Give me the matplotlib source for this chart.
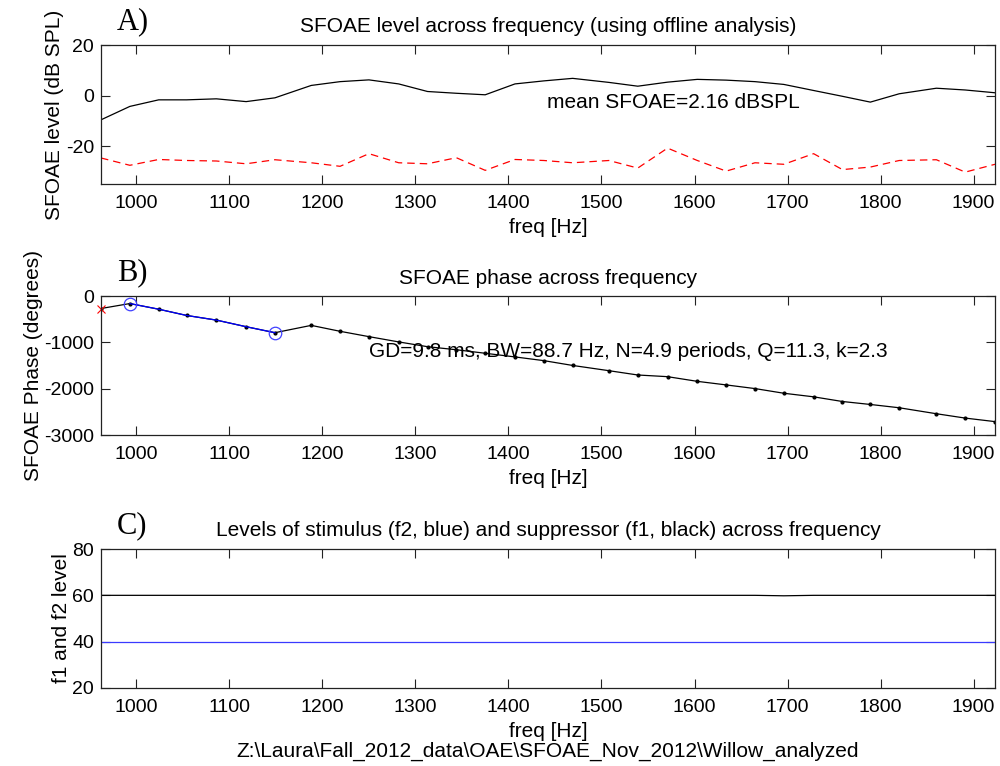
import matplotlib
matplotlib.use("Agg")
import matplotlib.pyplot as plt

# ---------------- data ----------------
freq = [962, 993, 1024, 1054, 1086, 1118, 1149, 1188, 1219, 1250, 1282, 1313,
        1344, 1375, 1407, 1438, 1469, 1508, 1539, 1571, 1603, 1634, 1665, 1696,
        1728, 1759, 1789, 1820, 1860, 1891, 1923]

sfoae_level = [-9.6, -4.3, -1.7, -1.7, -1.3, -2.4, -0.9, 4.0, 5.5, 6.2, 4.6, 1.6,
               0.9, 0.3, 4.6, 5.8, 6.8, 5.2, 3.7, 5.3, 6.4, 6.1, 5.5, 4.4,
               2.0, -0.3, -2.6, 0.7, 2.9, 2.2, 1.1]

noise_level = [-24.7, -27.6, -25.3, -25.7, -25.9, -27.0, -25.4, -26.6, -28.0, -23.0,
               -26.6, -27.0, -24.6, -29.6, -25.3, -25.7, -26.6, -25.7, -28.7, -20.8,
               -25.7, -29.9, -26.6, -27.2, -23.0, -29.3, -28.3, -25.7, -25.4, -30.3,
               -27.2]

phase = [-270, -163, -285, -420, -520, -663, -792, -634, -762, -877, -991, -1094,
         -1160, -1236, -1315, -1395, -1499, -1612, -1705, -1741, -1842, -1919,
         -1998, -2099, -2176, -2277, -2341, -2412, -2541, -2635, -2711]

fit_start, fit_end = 1, 6      # indices of circled points (fit range)
excluded_idx = 0               # red x

f1_level = [60, 60, 60, 60, 60, 60, 60, 60, 60, 60, 60, 60, 60, 60, 60, 60,
            60, 60, 60, 60, 60, 60, 60, 59.8, 60, 60, 60, 60, 60, 60, 60]
f2_level = [40] * 31

mean_text = "mean SFOAE=2.16 dBSPL"
phase_text = "GD=9.8 ms, BW=88.7 Hz, N=4.9 periods, Q=11.3, k=2.3"
path_text = r"Z:\Laura\Fall_2012_data\OAE\SFOAE_Nov_2012\Willow_analyzed"

xticks = [1000, 1100, 1200, 1300, 1400, 1500, 1600, 1700, 1800, 1900]

# ---------------- style ----------------
plt.rcParams['font.family'] = ['Liberation Sans', 'DejaVu Sans']
plt.rcParams['axes.unicode_minus'] = False
TK = 14   # tick labels
FS = 15   # other texts

fig = plt.figure(figsize=(10, 7.66), dpi=100)

H = 139 / 766
axA = fig.add_axes([0.101, 1 - 184 / 766, 0.894, H])
axB = fig.add_axes([0.101, 1 - 435 / 766, 0.894, H])
axC = fig.add_axes([0.101, 1 - 688 / 766, 0.894, H])


def style(ax):
    ax.set_xlim(freq[0], freq[-1])
    ax.set_xticks(xticks)
    ax.tick_params(direction='in', top=True, right=True, length=6.5,
                   width=0.8, labelsize=TK, color='#222222')
    ax.tick_params(axis='x', pad=8)
    ax.tick_params(axis='y', pad=5)
    for s in ax.spines.values():
        s.set_linewidth(0.9)
        s.set_color('#222222')


# Panel A
axA.plot(freq, sfoae_level, color='black', lw=0.9)
axA.plot(freq, noise_level, color='red', lw=0.9, ls=(0, (6, 4)))
style(axA)
axA.set_ylim(-35, 20)
axA.set_yticks([-20, 0, 20])
axA.set_ylabel("SFOAE level (dB SPL)", fontsize=FS, labelpad=1)
axA.set_xlabel("freq [Hz]", fontsize=FS, labelpad=4)
axA.set_title("SFOAE level across frequency (using offline analysis)",
              fontsize=FS, pad=9)
axA.text(1441, -2.8, mean_text, ha='left', va='center', fontsize=FS)

# Panel B
axB.plot(freq, phase, color='black', lw=0.9, marker='.', ms=4)
axB.plot(freq[fit_start:fit_end + 1], phase[fit_start:fit_end + 1],
         color='blue', lw=0.9)
axB.plot([freq[fit_start], freq[fit_end]], [phase[fit_start], phase[fit_end]],
         ls='none', marker='o', ms=9, mfc='none', mec='#4040ff', mew=0.9)
axB.plot([freq[excluded_idx]], [phase[excluded_idx]], ls='none', marker='x',
         ms=6, mec='red', mew=0.8, clip_on=False)
style(axB)
axB.set_ylim(-3000, 0)
axB.set_yticks([-3000, -2000, -1000, 0])
axB.set_ylabel("SFOAE Phase (degrees)", fontsize=FS, labelpad=1)
axB.set_xlabel("freq [Hz]", fontsize=FS, labelpad=4)
axB.set_title("SFOAE phase across frequency", fontsize=FS, pad=9)
axB.text(1250, -1200, phase_text, ha='left', va='center', fontsize=FS)

# Panel C
axC.plot(freq, f1_level, color='black', lw=0.9)
axC.plot(freq, f2_level, color='#3a3aff', lw=0.9)
style(axC)
axC.set_ylim(20, 80)
axC.set_yticks([20, 40, 60, 80])
axC.set_ylabel("f1 and f2 level", fontsize=FS, labelpad=1)
axC.set_xlabel("freq [Hz]\n" + path_text, fontsize=FS, labelpad=4,
               linespacing=1.1)
axC.set_title("Levels of stimulus (f2, blue) and suppressor (f1, black) across frequency",
              fontsize=FS, pad=9)

# panel letters
for ax, lab in [(axA, "A)"), (axB, "B)"), (axC, "C)")]:
    ax.text(0.018, 1.17, lab, transform=ax.transAxes, ha='left', va='center',
            fontsize=22, family='Liberation Serif')

fig.savefig("out.png", dpi=100)
